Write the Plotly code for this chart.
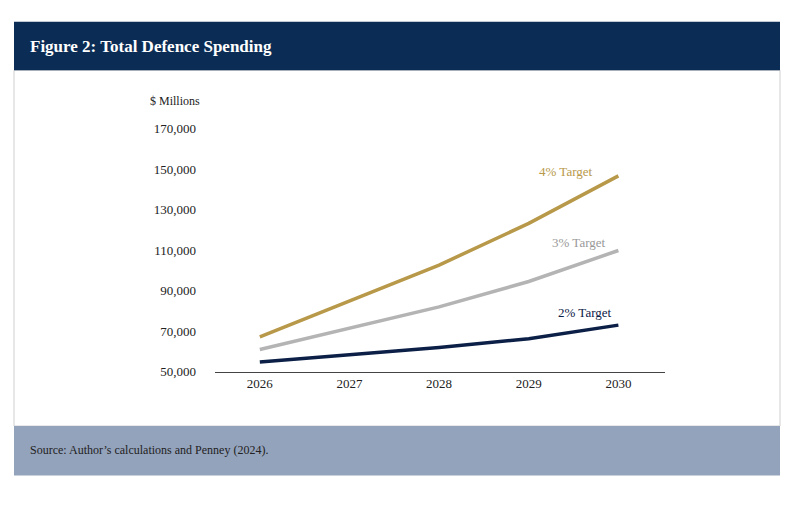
import plotly.graph_objects as go

years = [2026, 2027, 2028, 2029, 2030]
target_4 = [67200, 84800, 102600, 123200, 146600]
target_3 = [61000, 71500, 82000, 94500, 109800]
target_2 = [54800, 58500, 62000, 66300, 73000]
y_ticks = [50000, 70000, 90000, 110000, 130000, 150000, 170000]

gold, grey, navy = "#b8994a", "#b4b4b4", "#0c2047"
# page has an 8px body margin, so the figure is drawn a bit smaller
W, H = 784, 491

def px(x):
    return (x - 8) / W

def py(y):
    return 1 - (y - 8) / H

fig = go.Figure()
for vals, col in [(target_4, gold), (target_3, grey), (target_2, navy)]:
    fig.add_trace(go.Scatter(x=years, y=vals, mode="lines",
                             line=dict(color=col, width=3.5), showlegend=False))

fig.update_layout(
    width=W, height=H, margin=dict(l=0, r=0, t=0, b=0),
    paper_bgcolor="white", plot_bgcolor="white",
    font=dict(family="Liberation Serif", color="#222", size=13),
    xaxis=dict(domain=[px(215), px(665)], range=[2025.5, 2030.52],
               tickvals=years, showgrid=False, zeroline=False,
               showline=True, linecolor="#444", linewidth=1, ticks=""),
    yaxis=dict(domain=[py(376), py(125)], range=[50000, 170000],
               tickvals=y_ticks, tickformat=",", showgrid=False,
               zeroline=False, showline=False, ticks="", ticklabelstandoff=18),
    shapes=[
        dict(type="rect", xref="paper", yref="paper", x0=px(14), x1=px(780),
             y0=py(432), y1=py(65), line=dict(color="#d0d0d0", width=1)),
        dict(type="rect", xref="paper", yref="paper", x0=px(14), x1=px(780),
             y0=py(65), y1=py(15), fillcolor="#0b2d55", line=dict(width=0)),
        dict(type="rect", xref="paper", yref="paper", x0=px(14), x1=px(780),
             y0=py(483), y1=py(432), fillcolor="#94a3bc", line=dict(width=0)),
    ],
    annotations=[
        dict(text="<b>Figure 2: Total Defence Spending</b>", xref="paper", yref="paper",
             x=px(28), y=py(41), xanchor="left", yanchor="middle", showarrow=False,
             font=dict(color="white", size=17)),
        dict(text="Source: Author’s calculations and Penney (2024).", xref="paper",
             yref="paper", x=px(28), y=py(457), xanchor="left", yanchor="middle",
             showarrow=False, font=dict(color="#222", size=12)),
        dict(text="$ Millions", xref="paper", yref="paper", x=px(148), y=py(97),
             xanchor="left", yanchor="middle", showarrow=False, font=dict(size=12)),
        dict(text="4% Target", x=2029.42, y=148600, showarrow=False,
             font=dict(color=gold, size=13)),
        dict(text="3% Target", x=2029.56, y=113600, showarrow=False,
             font=dict(color="#999", size=13)),
        dict(text="2% Target", x=2029.63, y=79200, showarrow=False,
             font=dict(color=navy, size=13)),
    ],
)

fig.write_html("out.html")
